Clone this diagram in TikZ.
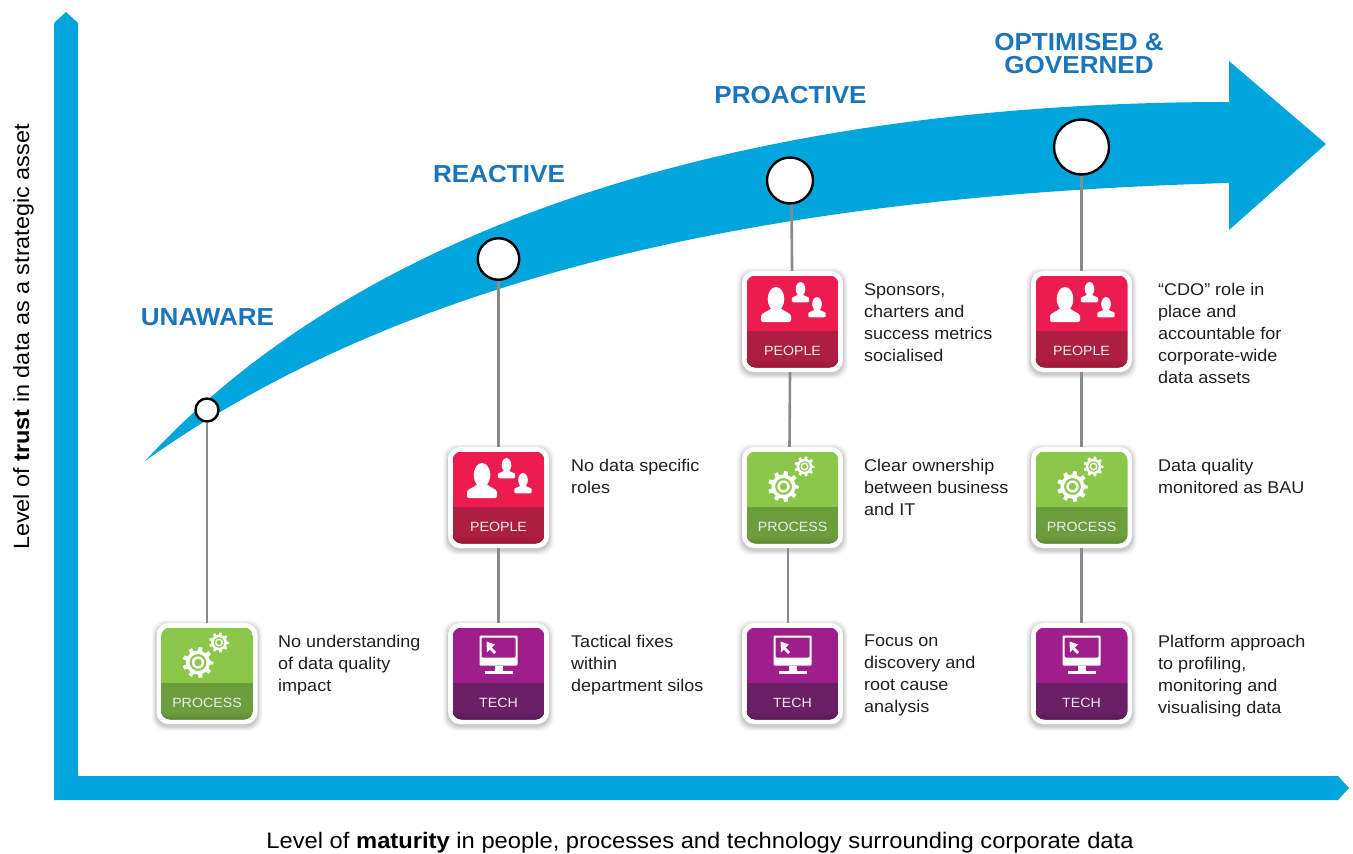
\documentclass[tikz,border=0pt]{standalone}
\usepackage{fontspec}
\setmainfont[FakeStretch=1.06]{Liberation Sans}
\definecolor{axisblue}{HTML}{00A6DB}
\definecolor{headblue}{HTML}{1B75BC}
\definecolor{linegrey}{HTML}{8A8A8A}
\definecolor{pplA}{HTML}{EC1C4E}
\definecolor{pplB}{HTML}{AE1E40}
\definecolor{pplC}{HTML}{961A36}
\definecolor{prcA}{HTML}{8AC74A}
\definecolor{prcB}{HTML}{6D9E3E}
\definecolor{prcC}{HTML}{5C8A34}
\definecolor{tchA}{HTML}{9E1F8C}
\definecolor{tchB}{HTML}{6A1F66}
\definecolor{tchC}{HTML}{591A56}
\tikzset{
  tile/.style={draw=none,fill=white,rounded corners=12pt,minimum width=101pt,minimum height=101pt,inner sep=0pt},
  link/.style={draw=linegrey,line width=2.6pt},
  dot/.style={circle,draw=black,fill=white,line width=2.4pt,inner sep=0pt},
  stage/.style={font=\fontsize{24.6}{23}\selectfont\bfseries,text=headblue,align=center,inner sep=0pt},
  note/.style={font=\fontsize{17}{22}\selectfont,text=black!88,align=left,anchor=north west,inner sep=0pt},
  axislabel/.style={font=\fontsize{22.4}{25}\selectfont,text=black,inner sep=0pt},
  tilelabel/.style={font=\fontsize{13.4}{16}\selectfont,text=white!92!black,inner sep=0pt}
}
% gear: centre, scale
\newcommand{\gearshape}[3]{%
  \begin{scope}[shift={(#1,#2)},scale=#3]
    \fill[white,even odd rule]
      (0:15.5)
      \foreach \k in {0,...,8}{
        -- ({\k*40-7}:15.5) -- ({\k*40+7}:15.5) -- ({\k*40+11}:12) -- ({\k*40+29}:12)
      } -- cycle
      (0,0) circle (8.5) (0,0) circle (6.2) (0,0) circle (3.8);
  \end{scope}}
\newcommand{\personshape}[3]{%
  \begin{scope}[shift={(#1,#2)},scale=#3]
    \fill[white] (0,-12) ellipse (8.3 and 12);
    \fill[white,rounded corners=2pt] (-15,11) -- (-15,7) .. controls (-15,2) and (-7,0) .. (-4,-4)
      -- (4,-4) .. controls (7,0) and (15,2) .. (15,7) -- (15,11) -- cycle;
  \end{scope}}
\newcommand{\tilebase}[5]{% name,x,y,colour prefix,label
  \foreach \s/\o in {5/.025,4/.035,3/.045,2/.055,1/.065}{
    \fill[black,opacity=\o,rounded corners=13pt] (#2-50.5-\s,#3-50.5-\s+2) rectangle (#2+50.5+\s,#3+50.5+\s+2);
  }
  \node[tile] (#1) at (#2,#3) {};
  \begin{scope}
    \clip[rounded corners=9pt] (#2-46,#3-46) rectangle (#2+46,#3+46);
    \fill[#4A] (#2-46,#3-46) rectangle (#2+46,#3+9.5);
    \fill[#4B] (#2-46,#3+9.5) rectangle (#2+46,#3+46);
    \shade[top color=#4B,bottom color=#4C] (#2-46,#3+38) rectangle (#2+46,#3+46);
  \end{scope}
  \node[tilelabel] (#1label) at (#2,#3+29.5) {#5};
}
\newcommand{\peopletile}[3]{\tilebase{#1}{#2}{#3}{ppl}{PEOPLE}
  \personshape{#2-16.5}{#3-10.5}{1}
  \personshape{#2+8}{#3-25.5}{.58}
  \personshape{#2+24.5}{#3-10.5}{.58}}
\newcommand{\processtile}[3]{\tilebase{#1}{#2}{#3}{prc}{PROCESS}
  \gearshape{#2-9}{#3-11}{1}
  \gearshape{#2+12}{#3-31}{.65}}
\newcommand{\techtile}[3]{\tilebase{#1}{#2}{#3}{tch}{TECH}
  \begin{scope}[shift={(#2,#3)}]
    \fill[white,rounded corners=1pt,even odd rule] (-19,-38) rectangle (19,-8) (-17,-36) rectangle (17,-16);
    \fill[white] (-4,-8) rectangle (4,-2);
    \fill[white] (-14,-3) rectangle (14,0);
    \fill[white] (-12,-32) -- (-11.5,-21) -- (-8.8,-24) -- (-4.5,-19.5) -- (-2.5,-21.5) -- (-6.8,-26) -- (-3.5,-29) -- cycle;
  \end{scope}}
\begin{document}
\begin{tikzpicture}[x=1pt,y=-1pt]
\useasboundingbox (0,0) rectangle (1353,854);
% axes
\fill[axisblue] (66,12) -- (78,23) -- (78,776) -- (1338,776) -- (1349,788) -- (1338,800) -- (54,800) -- (54,23) -- cycle;
% big arrow
\fill[axisblue] (145,461) .. controls (385,200) and (800,102) .. (1229,102)
  -- (1229,61) -- (1326,144) -- (1229,230) -- (1229,183)
  .. controls (800,195) and (420,265) .. (145,461) -- cycle;
% tiles
\processtile{p1}{207}{673.5}
\peopletile{u2}{498.5}{497.5}
\techtile{t2}{498.5}{673.5}
\peopletile{u3}{792.5}{321.5}
\processtile{p3}{792.5}{497.5}
\techtile{t3}{792.5}{673.5}
\peopletile{u4}{1081.5}{321.5}
\processtile{p4}{1081.5}{497.5}
\techtile{t4}{1081.5}{673.5}
% circles
\node[dot,minimum size=23pt] (c1) at (207,410) {};
\node[dot,minimum size=41.5pt] (c2) at (498.5,259) {};
\node[dot,minimum size=46pt] (c3) at (790,180.5) {};
\node[dot,minimum size=55pt] (c4) at (1081.5,147) {};
% connectors
\draw[link] (c1) -- (p1);
\draw[link] (c2) -- (u2);
\draw[link] (u2) -- (t2);
\draw[link] ([xshift=1.5pt]c3.south) -- (u3);
\draw[link] ([xshift=-2.5pt]u3.south) -- ([xshift=-3pt]p3.north);
\draw[link] ([xshift=-4.5pt]p3.south) -- ([xshift=-4.5pt]t3.north);
\draw[link] (c4) -- (u4);
\draw[link] (u4) -- (p4);
\draw[link] (p4) -- (t4);
% stage headings
\node[stage] (s1) at (207.5,317.5) {UNAWARE};
\node[stage] (s2) at (499,174.5) {REACTIVE};
\node[stage] (s3) at (790.5,95.5) {PROACTIVE};
\node[stage] (s4) at (1079,54) {OPTIMISED \&\\GOVERNED};
% notes
\node[note] (n1) at (278,635) {No understanding\\of data quality\\impact};
\node[note] (n2) at (571,635) {Tactical fixes\\within\\department silos};
\node[note] (n3) at (571,459) {No data specific\\roles};
\node[note] (n4) at (864,283) {Sponsors,\\charters and\\success metrics\\socialised};
\node[note] (n5) at (864,459) {Clear ownership\\between business\\and IT};
\node[note] (n6) at (864,635) {Focus on\\discovery and\\root cause\\analysis};
\node[note] (n7) at (1158,283) {“CDO” role in\\place and\\accountable for\\corporate-wide\\data assets};
\node[note] (n8) at (1158,459) {Data quality\\monitored as BAU};
\node[note] (n9) at (1158,635) {Platform approach\\to profiling,\\monitoring and\\visualising data};
% axis labels
\node[axislabel] (xl) at (700,842.5) {Level of \textbf{maturity} in people, processes and technology surrounding corporate data};
\node[axislabel,rotate=90,font=\fontsize{22.1}{25}\selectfont] (yl) at (23.5,337) {Level of \textbf{trust} in data as a strategic asset};
\end{tikzpicture}
\end{document}
